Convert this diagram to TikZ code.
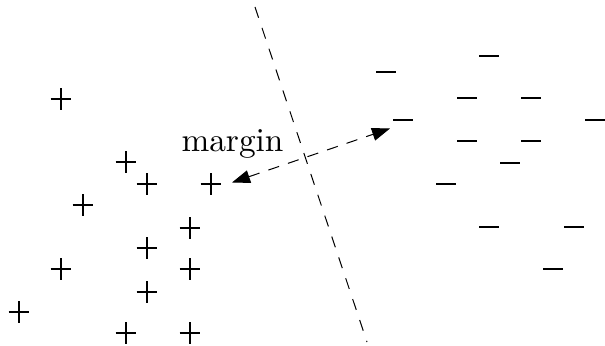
\documentclass[tikz,border=0pt]{standalone}
\usetikzlibrary{arrows.meta}
\begin{document}
\begin{tikzpicture}[x=0.3pt,y=-0.3pt,
  mark line/.style={line width=0.32pt},
  plussign/.style={inner sep=0pt,minimum width=6.2pt,minimum height=6.4pt,
    path picture={\draw[mark line] (path picture bounding box.north) -- (path picture bounding box.south)
      (path picture bounding box.west) -- (path picture bounding box.east);}},
  minussign/.style={inner sep=0pt,minimum width=6pt,minimum height=2pt,
    path picture={\draw[mark line] (path picture bounding box.west) -- (path picture bounding box.east);}},
  boundary/.style={line width=0.3pt,dash pattern=on 3.4pt off 3.2pt},
  marginarrow/.style={line width=0.3pt,dash pattern=on 3.4pt off 2.8pt,
    {Triangle[length=5.4pt,width=3.9pt]}-{Triangle[length=5.4pt,width=3.9pt]}},
  label/.style={font=\fontsize{10}{12}\selectfont,inner sep=0pt,anchor=base}]
\useasboundingbox (0,0) rectangle (605,346);
% positive samples
\node[plussign] (p1) at (61,99) {};
\node[plussign] (p2) at (126,162) {};
\node[plussign] (p3) at (147,184) {};
\node[plussign] (p4) at (211,184) {};
\node[plussign] (p5) at (83,205) {};
\node[plussign] (p6) at (190,228) {};
\node[plussign] (p7) at (147,248) {};
\node[plussign] (p8) at (61,269) {};
\node[plussign] (p9) at (190,269) {};
\node[plussign] (p10) at (147,292) {};
\node[plussign] (p11) at (19,312) {};
\node[plussign] (p12) at (126,333) {};
\node[plussign] (p13) at (190,333) {};
% negative samples
\node[minussign] (m1) at (489,56) {};
\node[minussign] (m2) at (386,72) {};
\node[minussign] (m3) at (467,98) {};
\node[minussign] (m4) at (531,98) {};
\node[minussign] (m5) at (403,120) {};
\node[minussign] (m6) at (595,120) {};
\node[minussign] (m7) at (467,141) {};
\node[minussign] (m8) at (531,141) {};
\node[minussign] (m9) at (510,163) {};
\node[minussign] (m10) at (446,184) {};
\node[minussign] (m11) at (489,227) {};
\node[minussign] (m12) at (574,227) {};
\node[minussign] (m13) at (553,269) {};
% separating line
\coordinate (btop) at (255,7);
\coordinate (bbot) at (367,342);
\draw[boundary] (btop) -- (bbot);
% margin arrow
\coordinate (aleft) at (232,182.5);
\coordinate (aright) at (390,128.5);
\draw[marginarrow] (aleft) -- (aright);
\node[label] (mlabel) at (232.5,152) {margin};
\end{tikzpicture}
\end{document}
